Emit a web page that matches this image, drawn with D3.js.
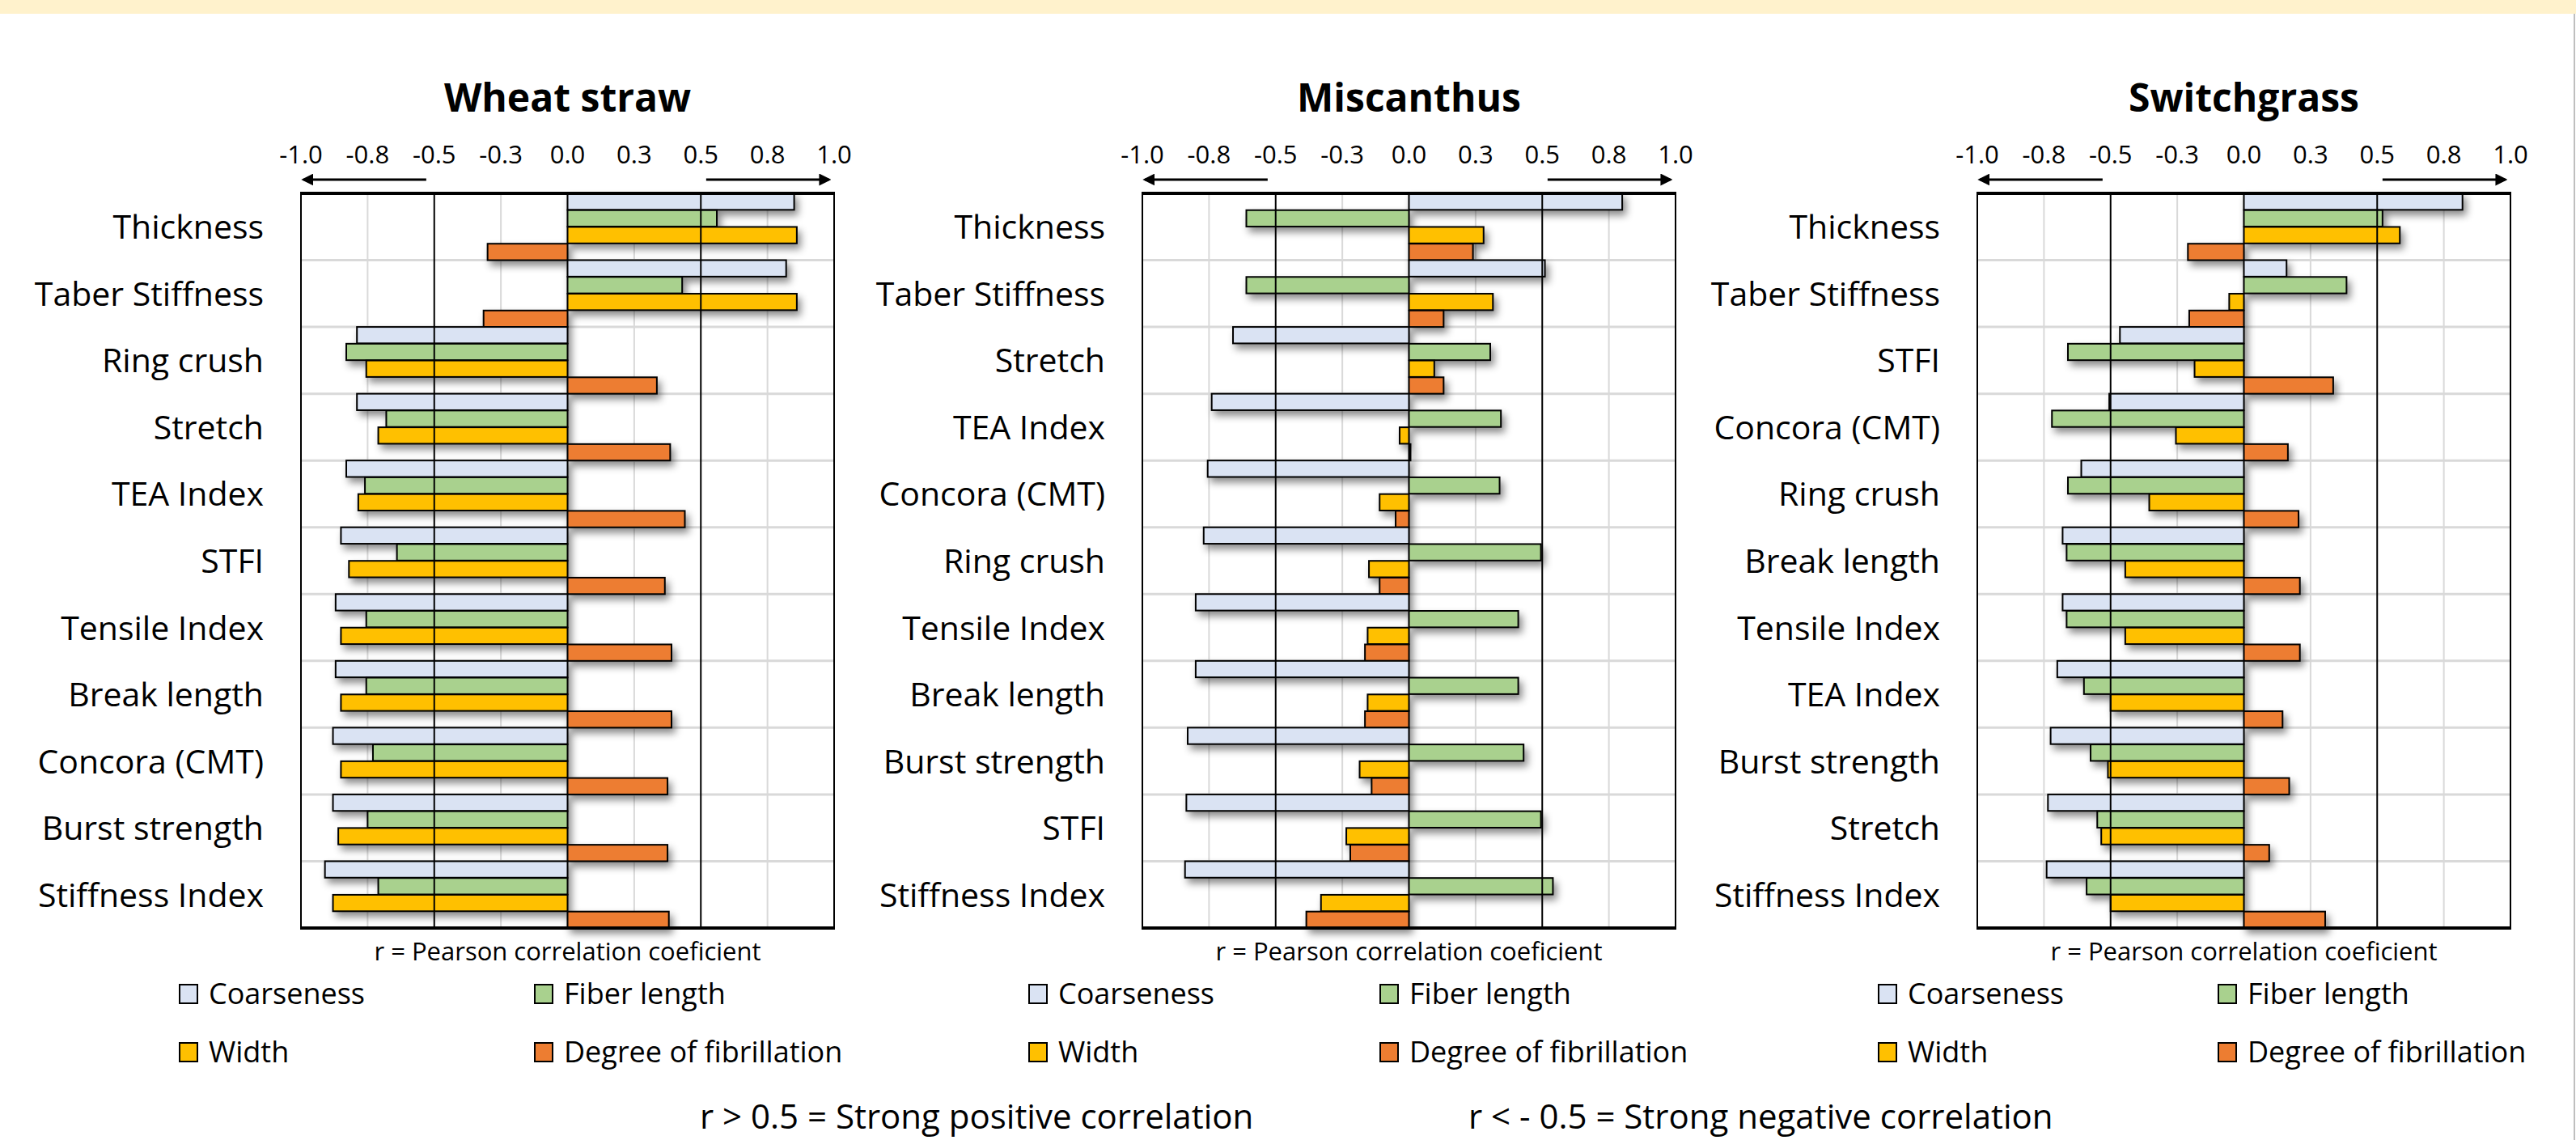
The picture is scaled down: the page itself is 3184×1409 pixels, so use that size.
<!DOCTYPE html>
<html>
<head>
<meta charset="utf-8">
<script src="https://cdn.jsdelivr.net/npm/d3@7"></script>
<style>
  body { margin: 0; background: #fff; }
  text { font-family: "Open Sans", sans-serif; fill: #000; }
</style>
</head>
<body>
<svg id="chart" width="3184" height="1409"></svg>
<script>
// series shared by all three panels
var seriesNames = ["Coarseness", "Fiber length", "Width", "Degree of fibrillation"];
var seriesColors = ["#dae3f3", "#a9d18e", "#ffc000", "#ed7d31"];

var tickValues = [-1, -0.75, -0.5, -0.25, 0, 0.25, 0.5, 0.75, 1];
var tickLabels = ["-1.0", "-0.8", "-0.5", "-0.3", "0.0", "0.3", "0.5", "0.8", "1.0"];

// Wheat straw
var wheatCategories = ["Thickness", "Taber Stiffness", "Ring crush", "Stretch", "TEA Index", "STFI",
  "Tensile Index", "Break length", "Concora (CMT)", "Burst strength", "Stiffness Index"];
var wheatCoarseness = [0.85, 0.82, -0.79, -0.79, -0.83, -0.85, -0.87, -0.87, -0.88, -0.88, -0.91];
var wheatFiber = [0.56, 0.43, -0.83, -0.68, -0.76, -0.64, -0.755, -0.755, -0.73, -0.75, -0.71];
var wheatWidth = [0.86, 0.86, -0.755, -0.71, -0.785, -0.82, -0.85, -0.85, -0.85, -0.86, -0.88];
var wheatFibrillation = [-0.30, -0.315, 0.335, 0.385, 0.44, 0.365, 0.39, 0.39, 0.375, 0.375, 0.38];

// Miscanthus
var miscCategories = ["Thickness", "Taber Stiffness", "Stretch", "TEA Index", "Concora (CMT)", "Ring crush",
  "Tensile Index", "Break length", "Burst strength", "STFI", "Stiffness Index"];
var miscCoarseness = [0.80, 0.51, -0.66, -0.74, -0.755, -0.77, -0.80, -0.80, -0.83, -0.835, -0.84];
var miscFiber = [-0.61, -0.61, 0.305, 0.345, 0.34, 0.495, 0.41, 0.41, 0.43, 0.495, 0.54];
var miscWidth = [0.28, 0.315, 0.095, -0.035, -0.11, -0.15, -0.155, -0.155, -0.185, -0.235, -0.33];
var miscFibrillation = [0.24, 0.13, 0.13, 0.006, -0.05, -0.11, -0.165, -0.165, -0.14, -0.22, -0.385];

// Switchgrass
var switchCategories = ["Thickness", "Taber Stiffness", "STFI", "Concora (CMT)", "Ring crush", "Break length",
  "Tensile Index", "TEA Index", "Burst strength", "Stretch", "Stiffness Index"];
var switchCoarseness = [0.82, 0.16, -0.465, -0.505, -0.61, -0.68, -0.68, -0.70, -0.725, -0.735, -0.74];
var switchFiber = [0.52, 0.385, -0.66, -0.72, -0.66, -0.665, -0.665, -0.60, -0.575, -0.55, -0.59];
var switchWidth = [0.585, -0.055, -0.185, -0.255, -0.355, -0.445, -0.445, -0.50, -0.51, -0.535, -0.50];
var switchFibrillation = [-0.21, -0.205, 0.335, 0.165, 0.205, 0.21, 0.21, 0.145, 0.17, 0.095, 0.305];

var panels = [
  { title: "Wheat straw", cats: wheatCategories, series: [wheatCoarseness, wheatFiber, wheatWidth, wheatFibrillation], left: 372, leg: [222, 661] },
  { title: "Miscanthus", cats: miscCategories, series: [miscCoarseness, miscFiber, miscWidth, miscFibrillation], left: 1412, leg: [1272, 1706] },
  { title: "Switchgrass", cats: switchCategories, series: [switchCoarseness, switchFiber, switchWidth, switchFibrillation], left: 2444, leg: [2322, 2742] }
];

var plotW = 659, plotTop = 239, plotBottom = 1147;

var svg = d3.select("#chart");

// page decoration
svg.append("rect").attr("x", 0).attr("y", 0).attr("width", 3184).attr("height", 17).attr("fill", "#fff2cc");
svg.append("line").attr("x1", 3182).attr("x2", 3182).attr("y1", 17).attr("y2", 1409)
  .attr("stroke", "#bfbfbf").attr("stroke-width", 2);

var defs = svg.append("defs");
var f = defs.append("filter").attr("id", "shadow").attr("x", "-10%").attr("y", "-30%").attr("width", "130%").attr("height", "190%");
f.append("feDropShadow").attr("dx", 4).attr("dy", 6).attr("stdDeviation", 5)
  .attr("flood-color", "#000").attr("flood-opacity", 0.45);

var mk = defs.append("marker").attr("id", "arrow").attr("viewBox", "0 0 10 10")
  .attr("refX", 8).attr("refY", 5).attr("markerWidth", 5).attr("markerHeight", 5)
  .attr("markerUnits", "strokeWidth").attr("orient", "auto");
mk.append("path").attr("d", "M0,0 L10,5 L0,10 z").attr("fill", "#000");

panels.forEach(function(p) {
  var x = d3.scaleLinear().domain([-1, 1]).range([p.left, p.left + plotW]);
  var y = d3.scaleBand().domain(p.cats).range([plotTop, plotBottom]);
  var ySub = d3.scaleBand().domain(seriesNames).range([0, y.bandwidth()]).paddingInner(0.02);
  var g = svg.append("g");
  var cx = (p.left + p.left + plotW) / 2;

  g.append("text").attr("x", cx).attr("y", 138).attr("text-anchor", "middle")
    .attr("font-size", 48).attr("font-weight", "bold").text(p.title);

  // tick labels on top
  g.selectAll(".tick").data(tickValues).enter().append("text")
    .attr("x", function(d) { return x(d); }).attr("y", 202)
    .attr("text-anchor", "middle").attr("font-size", 31)
    .text(function(d, i) { return tickLabels[i]; });

  // arrows
  g.append("line").attr("x1", x(-0.53)).attr("x2", x(-0.99)).attr("y1", 222).attr("y2", 222)
    .attr("stroke", "#000").attr("stroke-width", 3).attr("marker-end", "url(#arrow)");
  g.append("line").attr("x1", x(0.52)).attr("x2", x(0.98)).attr("y1", 222).attr("y2", 222)
    .attr("stroke", "#000").attr("stroke-width", 3).attr("marker-end", "url(#arrow)");

  // gridlines
  g.selectAll(".vgrid").data(tickValues.filter(function(d) { return Math.abs(d) !== 1 && Math.abs(d) !== 0.5; }))
    .enter().append("line")
    .attr("x1", function(d) { return x(d); }).attr("x2", function(d) { return x(d); })
    .attr("y1", plotTop).attr("y2", plotBottom).attr("stroke", "#d9d9d9").attr("stroke-width", 2);
  g.selectAll(".hgrid").data(p.cats.slice(1)).enter().append("line")
    .attr("x1", p.left).attr("x2", p.left + plotW)
    .attr("y1", function(d) { return y(d); }).attr("y2", function(d) { return y(d); })
    .attr("stroke", "#d9d9d9").attr("stroke-width", 3);

  // bars
  var rows = [];
  p.cats.forEach(function(c, ci) {
    seriesNames.forEach(function(s, si) {
      rows.push({ cat: c, s: s, si: si, v: p.series[si][ci] });
    });
  });
  g.append("g").attr("filter", "url(#shadow)").selectAll("rect").data(rows).enter().append("rect")
    .attr("x", function(d) { return x(Math.min(0, d.v)); })
    .attr("width", function(d) { return Math.abs(x(d.v) - x(0)); })
    .attr("y", function(d) { return y(d.cat) + ySub(d.s); })
    .attr("height", ySub.bandwidth())
    .attr("fill", function(d) { return seriesColors[d.si]; })
    .attr("stroke", "#000").attr("stroke-width", 2);

  // strong correlation lines and frame
  [-0.5, 0.5].forEach(function(v) {
    g.append("line").attr("x1", x(v)).attr("x2", x(v)).attr("y1", plotTop).attr("y2", plotBottom)
      .attr("stroke", "#000").attr("stroke-width", 2);
  });
  [-1, 1].forEach(function(v) {
    g.append("line").attr("x1", x(v)).attr("x2", x(v)).attr("y1", plotTop).attr("y2", plotBottom)
      .attr("stroke", "#000").attr("stroke-width", 2);
  });
  g.append("line").attr("x1", x(-1) - 1).attr("x2", x(1) + 1).attr("y1", plotTop).attr("y2", plotTop)
    .attr("stroke", "#000").attr("stroke-width", 4);
  g.append("line").attr("x1", x(-1) - 1).attr("x2", x(1) + 1).attr("y1", plotBottom).attr("y2", plotBottom)
    .attr("stroke", "#000").attr("stroke-width", 4);

  // category labels
  g.selectAll(".cat").data(p.cats).enter().append("text")
    .attr("x", p.left - 46).attr("y", function(d) { return y(d) + y.bandwidth() / 2 + 15; })
    .attr("text-anchor", "end").attr("font-size", 41).text(function(d) { return d; });

  g.append("text").attr("x", cx).attr("y", 1187).attr("text-anchor", "middle")
    .attr("font-size", 31).text("r = Pearson correlation coeficient");

  // legend
  seriesNames.forEach(function(s, i) {
    var lx = p.leg[i % 2], ly = i < 2 ? 1241 : 1313;
    g.append("rect").attr("x", lx).attr("y", ly - 24).attr("width", 22).attr("height", 23)
      .attr("fill", seriesColors[i]).attr("stroke", "#000").attr("stroke-width", 2);
    g.append("text").attr("x", lx + 36).attr("y", ly).attr("font-size", 36).text(s);
  });
});

svg.append("text").attr("x", 865).attr("y", 1395).attr("font-size", 42).text("r > 0.5 = Strong positive correlation");
svg.append("text").attr("x", 1815).attr("y", 1395).attr("font-size", 42).text("r < - 0.5 = Strong negative correlation");
</script>
</body>
</html>
